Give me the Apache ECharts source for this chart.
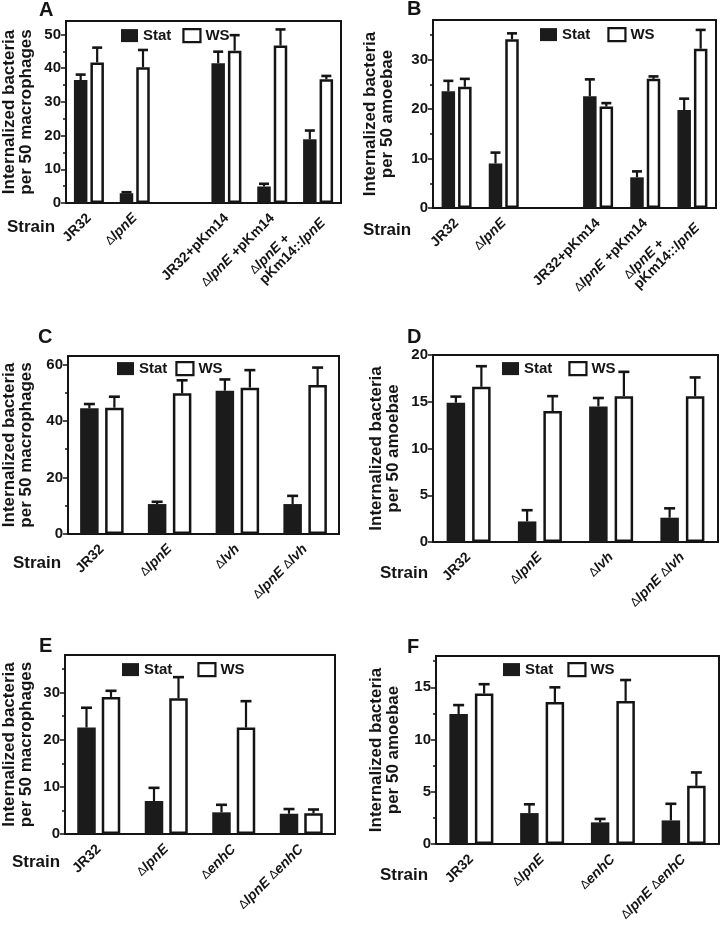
<!DOCTYPE html>
<html>
<head>
<meta charset="utf-8">
<script src="https://cdn.jsdelivr.net/npm/echarts@6/dist/echarts.min.js"></script>
<style>
  html, body { margin: 0; padding: 0; background: #fff; }
  #chart { width: 720px; height: 927px; }
</style>
</head>
<body>
<div id="chart"></div>
<script>
// ---------- DATA ----------
const catsA = ['JR32', 'ΔlpnE', '', 'JR32+pKm14', 'ΔlpnE +pKm14', 'ΔlpnE +\npKm14::lpnE'];
const statA = [36.5, 2.9, null, 41.5, 4.9, 18.9];
const statSemA = [1.6, 0.3, null, 3.4, 0.8, 2.6];
const wsA = [41.7, 40.3, null, 45.2, 46.7, 36.7];
const wsSemA = [4.4, 5.1, null, 4.6, 4.8, 1.0];

const catsB = ['JR32', 'ΔlpnE', '', 'JR32+pKm14', 'ΔlpnE +pKm14', 'ΔlpnE +\npKm14::lpnE'];
const statB = [23.6, 9.0, null, 22.6, 6.2, 19.8];
const statSemB = [2.1, 2.2, null, 3.4, 1.2, 2.3];
const wsB = [24.5, 34.1, null, 20.5, 26.1, 32.2];
const wsSemB = [1.6, 1.2, null, 0.7, 0.5, 3.8];

const catsC = ['JR32', 'ΔlpnE', 'Δlvh', 'ΔlpnE Δlvh'];
const statC = [44.5, 10.6, 50.7, 10.6];
const statSemC = [1.5, 0.8, 4.0, 2.9];
const wsC = [44.7, 49.8, 51.8, 52.7];
const wsSemC = [3.9, 4.6, 6.2, 6.2];

const catsD = ['JR32', 'ΔlpnE', 'Δlvh', 'ΔlpnE Δlvh'];
const statD = [14.9, 2.2, 14.5, 2.6];
const statSemD = [0.65, 1.2, 0.9, 1.0];
const wsD = [16.6, 14.0, 15.6, 15.6];
const wsSemD = [2.2, 1.6, 2.6, 2.0];

const catsE = ['JR32', 'ΔlpnE', 'ΔenhC', 'ΔlpnE ΔenhC'];
const statE = [22.6, 7.0, 4.6, 4.3];
const statSemE = [4.2, 2.8, 1.6, 1.0];
const wsE = [29.1, 28.8, 22.6, 4.4];
const wsSemE = [1.3, 4.5, 5.6, 0.8];

const catsF = ['JR32', 'ΔlpnE', 'ΔenhC', 'ΔlpnE ΔenhC'];
const statF = [12.45, 2.96, 2.07, 2.26];
const statSemF = [0.85, 0.84, 0.33, 1.59];
const wsF = [14.4, 13.6, 13.7, 5.57];
const wsSemF = [0.9, 1.4, 2.0, 1.28];

const ticksA = [0, 10, 20, 30, 40, 50], minorA = [5, 15, 25, 35, 45];
const ticksB = [0, 10, 20, 30], minorB = [5, 15, 25, 35];
const ticksC = [0, 20, 40, 60], minorC = [10, 30, 50];
const ticksD = [0, 5, 10, 15, 20], minorD = [];
const ticksE = [0, 10, 20, 30], minorE = [5, 15, 25, 35];
const ticksF = [0, 5, 10, 15], minorF = [2.5, 7.5, 12.5, 17.5];

const titleMac = 'Internalized bacteria\nper 50 macrophages';
const titleAmo = 'Internalized bacteria\nper 50 amoebae';
const legendNames = ['Stat', 'WS'];

// ---------- LAYOUT / STYLE ----------
const FONT = '"Liberation Sans", Arial, Helvetica, sans-serif';
const INK = '#141414';

const panels = [
  { letter: 'A', cats: catsA, stat: statA, statSem: statSemA, ws: wsA, wsSem: wsSemA, max: 54, ticks: ticksA, minor: minorA, yName: titleMac,
    grid: { left: 65, top: 21, width: 276, height: 182 }, barW: 13.5, gap: 3, cap: 10, nameGap: 31, rotate: 45,
    legend: { left: 121, top: 28, gap: 11 }, letterPos: [39, 11.5], strainPos: [7, 228] },
  { letter: 'B', cats: catsB, stat: statB, statSem: statSemB, ws: wsB, wsSem: wsSemB, max: 38, ticks: ticksB, minor: minorB, yName: titleAmo,
    grid: { left: 433, top: 20, width: 283, height: 188 }, barW: 13.5, gap: 3, cap: 10, nameGap: 37, rotate: 45,
    legend: { left: 540, top: 27, gap: 17 }, letterPos: [407, 10.5], strainPos: [363, 231] },
  { letter: 'C', cats: catsC, stat: statC, statSem: statSemC, ws: wsC, wsSem: wsSemC, max: 63, ticks: ticksC, minor: minorC, yName: titleMac,
    grid: { left: 66, top: 356, width: 273, height: 178 }, barW: 18.5, gap: 6.5, cap: 11, nameGap: 33, rotate: 45,
    legend: { left: 117, top: 361, gap: 8 }, letterPos: [38, 338.5], strainPos: [13, 564] },
  { letter: 'D', cats: catsD, stat: statD, statSem: statSemD, ws: wsD, wsSem: wsSemD, max: 20, ticks: ticksD, minor: minorD, yName: titleAmo,
    grid: { left: 433, top: 355, width: 285, height: 187 }, barW: 18.5, gap: 7, cap: 11, nameGap: 31, rotate: 45,
    legend: { left: 502, top: 361, gap: 16 }, letterPos: [407, 338.5], strainPos: [380, 574] },
  { letter: 'E', cats: catsE, stat: statE, statSem: statSemE, ws: wsE, wsSem: wsSemE, max: 38, ticks: ticksE, minor: minorE, yName: titleMac,
    grid: { left: 63, top: 655, width: 272, height: 179 }, barW: 18.5, gap: 6, cap: 11, nameGap: 30, rotate: 45,
    legend: { left: 122, top: 662, gap: 25 }, letterPos: [39, 647], strainPos: [12, 863] },
  { letter: 'F', cats: catsF, stat: statF, statSem: statSemF, ws: wsF, wsSem: wsSemF, max: 18, ticks: ticksF, minor: minorF, yName: titleAmo,
    grid: { left: 436, top: 656, width: 283, height: 188 }, barW: 18.5, gap: 7, cap: 11, nameGap: 34, rotate: 45,
    legend: { left: 503, top: 662, gap: 14 }, letterPos: [407, 648.5], strainPos: [380, 876] }
];

// Split each label line into rich tokens: gene names italic, Δ thin, rest bold; lines left-aligned.
function richLabel(v) {
  if (!v) return '';
  return v.split('\n').map(line => {
    const parts = line.split(/(lpnE|lvh|enhC|Δ)/).filter(s => s.length);
    return parts.map(s => {
      if (s === 'Δ') return '{d|Δ}';
      if (/^(lpnE|lvh|enhC)$/.test(s)) return '{i|' + s + '}';
      return '{n|' + s + '}';
    }).join('');
  }).join('\n');
}

const richStyles = {
  n: { fontWeight: 'bold', fontSize: 14, fontFamily: FONT, color: INK, align: 'left' },
  i: { fontStyle: 'italic', fontWeight: 'bold', fontSize: 14, fontFamily: FONT, color: INK, align: 'left' },
  d: { fontWeight: 'normal', fontSize: 12, fontFamily: FONT, color: INK, align: 'left' }
};

function errRender(offset, cap) {
  return function (params, api) {
    const v = api.value(1), e = api.value(2);
    if (v == null || isNaN(v)) return null;
    const base = api.coord([api.value(0), v]);
    const top = api.coord([api.value(0), v + e]);
    const x = base[0] + offset;
    return {
      type: 'group',
      children: [
        { type: 'line', shape: { x1: x, y1: base[1], x2: x, y2: top[1] }, style: { stroke: INK, lineWidth: 2.2 } },
        { type: 'line', shape: { x1: x - cap / 2, y1: top[1], x2: x + cap / 2, y2: top[1] }, style: { stroke: INK, lineWidth: 2.6 } }
      ]
    };
  };
}

const option = {
  animation: false,
  backgroundColor: '#fff',
  grid: [], xAxis: [], yAxis: [], series: [], legend: [], graphic: []
};

panels.forEach((p, k) => {
  option.grid.push(Object.assign({ show: true, borderColor: INK, borderWidth: 2, backgroundColor: 'transparent' }, p.grid));
  option.xAxis.push({
    type: 'category', gridIndex: k, data: p.cats,
    axisLine: { lineStyle: { color: INK, width: 2 } },
    axisTick: { show: false },
    axisLabel: {
      interval: 0, rotate: p.rotate, margin: 13, color: INK,
      fontFamily: FONT, fontWeight: 'bold', fontSize: 14,
      formatter: richLabel, rich: richStyles
    },
    splitLine: { show: false }
  });
  option.yAxis.push({
    type: 'value', gridIndex: k, min: 0, max: p.max, interval: p.ticks[1] - p.ticks[0],
    name: p.yName, nameLocation: 'middle', nameGap: p.nameGap,
    nameTextStyle: { fontFamily: FONT, fontWeight: 'bold', fontSize: 17, lineHeight: 17, color: INK },
    axisLine: { show: true, lineStyle: { color: INK, width: 2 } },
    axisTick: { show: true, length: 5, lineStyle: { color: INK, width: 1.5 }, customValues: p.ticks },
    axisLabel: { color: INK, fontFamily: FONT, fontWeight: 'bold', fontSize: 15, margin: 5, customValues: p.ticks },
    splitLine: { show: false }
  });
  option.yAxis.push({
    type: 'value', gridIndex: k, min: 0, max: p.max, position: 'left',
    axisLine: { show: false },
    axisTick: { show: p.minor.length > 0, length: 3, lineStyle: { color: INK, width: 1.5 }, customValues: p.minor.length ? p.minor : [0] },
    axisLabel: { show: false },
    splitLine: { show: false }
  });
  const yi = 2 * k;
  const w = p.barW, g = p.gap;
  const off = (w + g) / 2;
  option.series.push({
    type: 'bar', name: 'Stat', xAxisIndex: k, yAxisIndex: yi, data: p.stat,
    barWidth: w, barGap: (g / w * 100).toFixed(1) + '%',
    itemStyle: { color: '#1b1b1b', borderColor: '#1b1b1b', borderWidth: 0 }, z: 2
  });
  option.series.push({
    type: 'bar', name: 'WS', xAxisIndex: k, yAxisIndex: yi, data: p.ws,
    barWidth: w, barGap: (g / w * 100).toFixed(1) + '%',
    itemStyle: { color: '#ffffff', borderColor: INK, borderWidth: 2.5 }, z: 2
  });
  option.series.push({
    type: 'custom', name: 'errStat' + k, xAxisIndex: k, yAxisIndex: yi, z: 3,
    renderItem: errRender(-off, p.cap), encode: { x: 0, y: 1 },
    data: p.stat.map((v, i) => [i, v == null ? NaN : v, p.statSem[i] == null ? 0 : p.statSem[i]])
  });
  option.series.push({
    type: 'custom', name: 'errWS' + k, xAxisIndex: k, yAxisIndex: yi, z: 3,
    renderItem: errRender(off, p.cap), encode: { x: 0, y: 1 },
    data: p.ws.map((v, i) => [i, v == null ? NaN : v, p.wsSem[i] == null ? 0 : p.wsSem[i]])
  });
  option.legend.push({
    left: p.legend.left, top: p.legend.top, orient: 'horizontal', padding: 0,
    itemWidth: 17, itemHeight: 13, itemGap: p.legend.gap, icon: 'rect', selectedMode: false,
    textStyle: { fontFamily: FONT, fontWeight: 'bold', fontSize: 15, color: INK },
    data: [
      { name: legendNames[0], itemStyle: { color: '#1b1b1b', borderWidth: 0 } },
      { name: legendNames[1], itemStyle: { color: '#fff', borderColor: INK, borderWidth: 2.2 } }
    ]
  });
  option.graphic.push({
    type: 'text', left: p.letterPos[0], top: p.letterPos[1] - 11,
    style: { text: p.letter, font: 'bold 20px ' + FONT, fill: INK }
  });
  option.graphic.push({
    type: 'text', left: p.strainPos[0], top: p.strainPos[1] - 9,
    style: { text: 'Strain', font: 'bold 17px ' + FONT, fill: INK }
  });
});

const chart = echarts.init(document.getElementById('chart'), null, { renderer: 'canvas' });
chart.setOption(option);
</script>
</body>
</html>
